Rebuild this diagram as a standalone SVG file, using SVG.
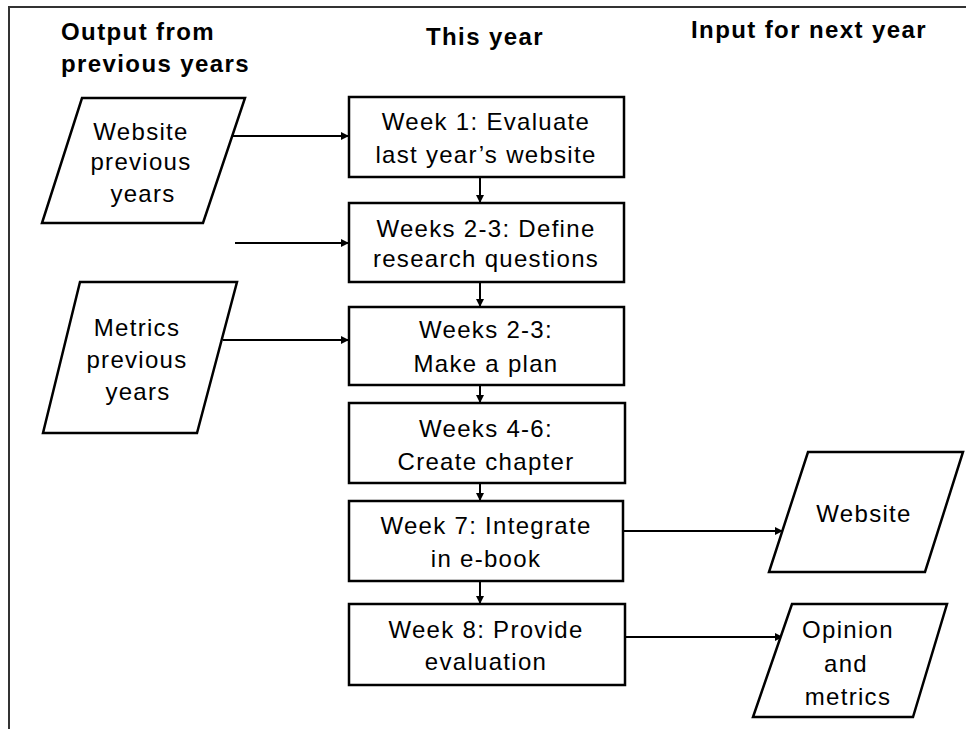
<svg xmlns="http://www.w3.org/2000/svg" width="966" height="729" viewBox="0 0 966 729">
<style>
  .hdr { font-family: "Liberation Sans", Arial, sans-serif; font-weight: bold; font-size: 24px; letter-spacing: 1.4px; fill: #000; }
  .txt { font-family: "Liberation Sans", Arial, sans-serif; font-size: 24px; letter-spacing: 1.3px; fill: #000; text-anchor: middle; }
  .box { fill: #fff; stroke: #000; stroke-width: 2.5; }
  .conn { stroke: #000; stroke-width: 2; fill: none; }
  .frame { stroke: #333; stroke-width: 2; fill: none; }
</style>
<defs>
  <marker id="arr" markerUnits="userSpaceOnUse" markerWidth="10" markerHeight="10" refX="8" refY="4" orient="auto">
    <path d="M0,0 L8,4 L0,8 Z" fill="#000"/>
  </marker>
</defs>
<rect width="966" height="729" fill="#fff"/>
<path class="frame" d="M9,729 L9,7 L966,7"/>

<g id="headers">
  <text class="hdr" x="61" y="40">Output from</text>
  <text class="hdr" x="61" y="72">previous years</text>
  <text class="hdr" x="426" y="45">This year</text>
  <text class="hdr" x="691" y="38">Input for next year</text>
</g>

<g id="connectors">
  <line class="conn" x1="232" y1="136" x2="349" y2="136" marker-end="url(#arr)"/>
  <line class="conn" x1="235" y1="243" x2="349" y2="243" marker-end="url(#arr)"/>
  <line class="conn" x1="223" y1="340" x2="349" y2="340" marker-end="url(#arr)"/>
  <line class="conn" x1="480" y1="177" x2="480" y2="203" marker-end="url(#arr)"/>
  <line class="conn" x1="480" y1="282" x2="480" y2="307" marker-end="url(#arr)"/>
  <line class="conn" x1="480" y1="378" x2="480" y2="403" marker-end="url(#arr)"/>
  <line class="conn" x1="480" y1="475" x2="480" y2="501" marker-end="url(#arr)"/>
  <line class="conn" x1="480" y1="581" x2="480" y2="604" marker-end="url(#arr)"/>
  <line class="conn" x1="623" y1="531" x2="783" y2="531" marker-end="url(#arr)"/>
  <line class="conn" x1="625" y1="637" x2="783" y2="637" marker-end="url(#arr)"/>
</g>

<g id="in-website">
  <polygon class="box" points="82,98 245,98 203,223 42,223"/>
  <text class="txt" x="141" y="140">Website</text>
  <text class="txt" x="141" y="170">previous</text>
  <text class="txt" x="143" y="202">years</text>
</g>
<g id="in-metrics">
  <polygon class="box" points="80,282 237,282 197,433 43,433"/>
  <text class="txt" x="137" y="336">Metrics</text>
  <text class="txt" x="137" y="368">previous</text>
  <text class="txt" x="138" y="400">years</text>
</g>

<g id="week1">
  <rect class="box" x="349" y="97" width="275" height="80"/>
  <text class="txt" x="486" y="130">Week 1: Evaluate</text>
  <text class="txt" x="486" y="163">last year’s website</text>
</g>
<g id="week2-3a">
  <rect class="box" x="349" y="203" width="275" height="79"/>
  <text class="txt" x="486" y="237">Weeks 2-3: Define</text>
  <text class="txt" x="486" y="267">research questions</text>
</g>
<g id="week2-3b">
  <rect class="box" x="349" y="307" width="275" height="78"/>
  <text class="txt" x="486" y="338">Weeks 2-3:</text>
  <text class="txt" x="486" y="372">Make a plan</text>
</g>
<g id="week4-6">
  <rect class="box" x="349" y="403" width="276" height="80"/>
  <text class="txt" x="486" y="437">Weeks 4-6:</text>
  <text class="txt" x="486" y="470">Create chapter</text>
</g>
<g id="week7">
  <rect class="box" x="349" y="501" width="274" height="80"/>
  <text class="txt" x="486" y="534">Week 7: Integrate</text>
  <text class="txt" x="486" y="567">in e-book</text>
</g>
<g id="week8">
  <rect class="box" x="349" y="604" width="276" height="81"/>
  <text class="txt" x="486" y="638">Week 8: Provide</text>
  <text class="txt" x="486" y="670">evaluation</text>
</g>

<g id="out-website">
  <polygon class="box" points="808,452 963,452 925,572 769,572"/>
  <text class="txt" x="864" y="522">Website</text>
</g>
<g id="out-opinion">
  <polygon class="box" points="792,604 947,604 913,717 753,717"/>
  <text class="txt" x="848" y="638">Opinion</text>
  <text class="txt" x="846" y="672">and</text>
  <text class="txt" x="848" y="705">metrics</text>
</g>
</svg>
